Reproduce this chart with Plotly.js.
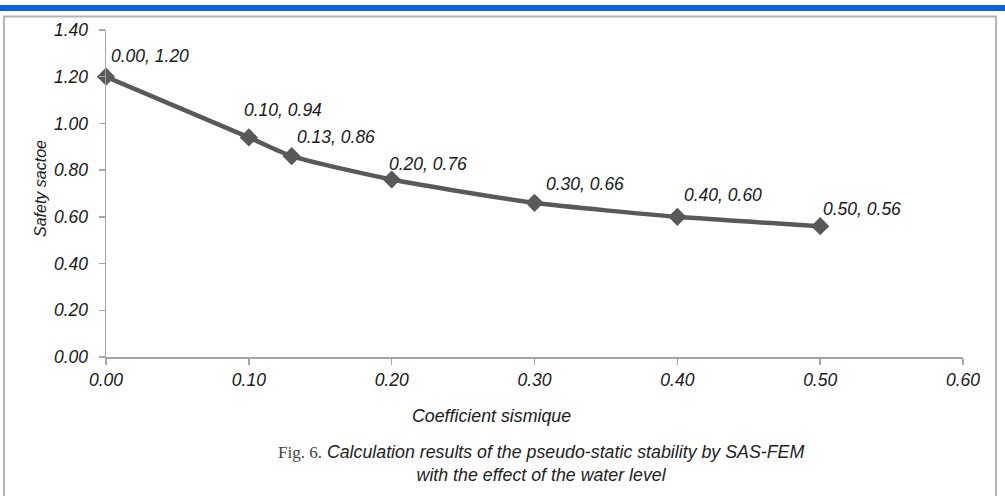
<!DOCTYPE html>
<html>
<head>
<meta charset="utf-8">
<script src="https://cdn.plot.ly/plotly-3.0.1.min.js"></script>
<style>
html,body{margin:0;padding:0;background:#fff;}
#chart{width:1005px;height:496px;}
</style>
</head>
<body>
<div id="chart"></div>
<script>
// Data
const coefficients = [0.00, 0.10, 0.13, 0.20, 0.30, 0.40, 0.50];
const safetyFactors = [1.20, 0.94, 0.86, 0.76, 0.66, 0.60, 0.56];
const xTickValues = [0, 0.1, 0.2, 0.3, 0.4, 0.5, 0.6];
const xTickLabels = ["0.00", "0.10", "0.20", "0.30", "0.40", "0.50", "0.60"];
const yTickValues = [0, 0.2, 0.4, 0.6, 0.8, 1.0, 1.2, 1.4];
const yTickLabels = ["0.00", "0.20", "0.40", "0.60", "0.80", "1.00", "1.20", "1.40"];
const xTitle = "Coefficient sismique";
const yTitle = "Safety sactoe";
const captionPrefix = "Fig. 6.";
const captionLine1 = "Calculation results of the pseudo-static stability by SAS-FEM";
const captionLine2 = "with the effect of the water level";

// Label offsets (pixels) for the data labels: [xshift, yshift]
const labelOffsets = [[3, 21], [-7, 27], [3, 19], [-5, 15], [9, 19], [5, 22], [1, 17]];

// Layout geometry
const W = 1005, H = 496;
const M = {l: 106, r: 42, t: 30, b: 139};
const PW = W - M.l - M.r, PH = H - M.t - M.b;
const px = x => (x - M.l) / PW;
const py = y => (H - M.b - y) / PH;

const FONT = "Liberation Sans, Arial, sans-serif";
const TXT = "#1a1a1a";
const LINE = "#595959";
const AXIS = "#a6a6a6";

const trace = {
  x: coefficients,
  y: safetyFactors,
  type: "scatter",
  mode: "lines+markers",
  line: {color: LINE, width: 4.5, shape: "spline", smoothing: 0.6},
  marker: {symbol: "diamond", size: 14, color: LINE},
  hoverinfo: "skip",
  cliponaxis: false
};

const annotations = coefficients.map((c, i) => ({
  x: c, y: safetyFactors[i], xref: "x", yref: "y",
  text: c.toFixed(2) + ", " + safetyFactors[i].toFixed(2),
  showarrow: false, xanchor: "left", yanchor: "middle",
  xshift: labelOffsets[i][0], yshift: labelOffsets[i][1],
  font: {family: FONT, size: 17.5, color: TXT, style: "italic"}
}));

annotations.push({
  x: px(491), y: py(416), xref: "paper", yref: "paper",
  text: xTitle, showarrow: false, xanchor: "center", yanchor: "middle",
  font: {family: FONT, size: 17.8, color: TXT, style: "italic"}
});
annotations.push({
  x: px(40), y: py(189), xref: "paper", yref: "paper",
  text: yTitle, showarrow: false, xanchor: "center", yanchor: "middle",
  textangle: -90,
  font: {family: FONT, size: 16, color: TXT, style: "italic"}
});
annotations.push({
  x: px(541), y: py(463), xref: "paper", yref: "paper",
  text: '<span style="font-family:Liberation Serif, Times New Roman, serif;font-style:normal;font-size:17px;color:#444">' + captionPrefix + '</span> ' + captionLine1 + '<br>' + captionLine2,
  showarrow: false, xanchor: "center", yanchor: "middle", align: "center",
  font: {family: FONT, size: 17.8, color: "#222", style: "italic"}
});

const shapes = [
  {type: "rect", xref: "paper", yref: "paper",
   x0: px(0), x1: px(W), y0: py(5), y1: py(11),
   fillcolor: "#0a64e0", line: {width: 0}, layer: "below"},
  {type: "rect", xref: "paper", yref: "paper",
   x0: px(4), x1: px(996), y0: py(16.5), y1: py(H + 5),
   fillcolor: "rgba(0,0,0,0)", line: {color: "#b4b4b4", width: 2}, layer: "below"}
];

const axisCommon = {
  showgrid: false, zeroline: false, showline: true,
  linecolor: AXIS, linewidth: 1.5,
  ticks: "outside", tickcolor: AXIS, ticklen: 6, tickwidth: 1.5,
  tickfont: {family: FONT, size: 17.5, color: TXT, style: "italic"},
  fixedrange: true
};

const layout = {
  width: W, height: H,
  margin: M,
  paper_bgcolor: "#fff", plot_bgcolor: "#fff",
  showlegend: false,
  xaxis: Object.assign({}, axisCommon, {
    range: [0, 0.6], tickvals: xTickValues, ticktext: xTickLabels,
    ticklabelstandoff: 0
  }),
  yaxis: Object.assign({}, axisCommon, {
    range: [0, 1.4], tickvals: yTickValues, ticktext: yTickLabels,
    ticklabelstandoff: 7
  }),
  annotations: annotations,
  shapes: shapes
};

Plotly.newPlot("chart", [trace], layout, {staticPlot: true, displayModeBar: false});
</script>
</body>
</html>
